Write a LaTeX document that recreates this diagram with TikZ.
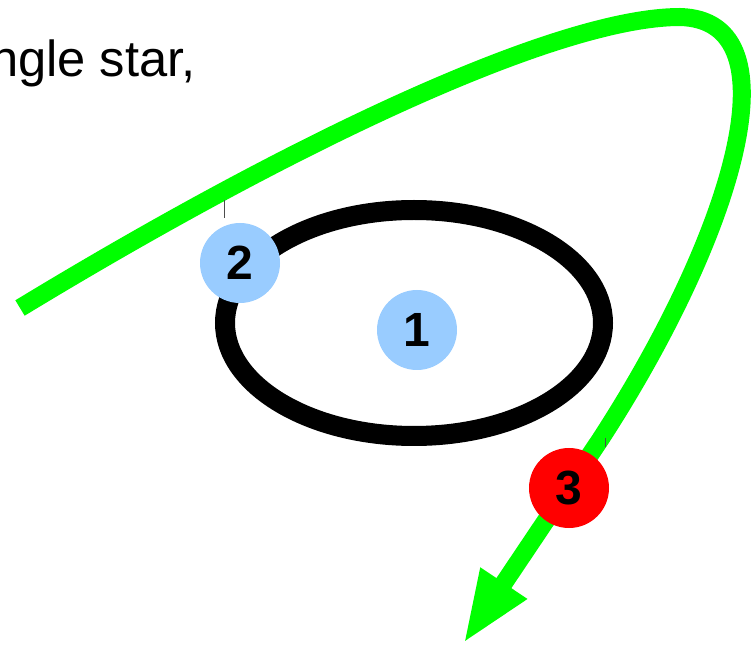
\documentclass[tikz,border=0pt]{standalone}
\usepackage{fontspec}
\setmainfont{Liberation Sans}
\usetikzlibrary{arrows.meta, positioning}

\begin{document}
\begin{tikzpicture}[
  x=0.75pt, y=-0.75pt,
  every node/.style={font=\fontsize{36}{42}\selectfont\bfseries},
  dot/.style={circle, minimum size=60pt, inner sep=0pt},
  bluedot/.style={dot, fill=lightblue},
  reddot/.style={dot, fill=red},
  ring/.style={line width=15pt, draw=black},
  route/.style={line width=13.5pt, draw=brightgreen, -{Triangle[length=55pt, width=38pt]}},
  tick/.style={line width=0.5pt, draw=black!70}
]
\definecolor{lightblue}{HTML}{99CCFF}
\definecolor{brightgreen}{HTML}{00FF00}
\useasboundingbox (0,0) rectangle (754,645);

% Caption
\node[font=\fontsize{38}{44}\selectfont, anchor=base east, inner sep=0pt] (caption) at (196,77) {ngle star,};

% Orbit
\draw[ring] (414,323) ellipse [x radius=189, y radius=113];

% Route
\coordinate (start) at (20,308);
\coordinate (top) at (680,17);
\coordinate (bend) at (600,440);
\coordinate (tip) at (463,644);
\draw[route] (start) .. controls (300,138) and (560,17) .. (top)
  .. controls (800,20) and (730,240) .. (bend) -- (tip);

% Nodes
\node[bluedot] (1) at (417,330) {1};
\node[bluedot] (2) at (240,263) {2};
\node[reddot]  (3) at (569,488) {3};

% Ticks
\coordinate (t2) at (224,200);
\coordinate (t3) at (605,438);
\draw[tick] (t2) -- ++(0,18);
\draw[tick] (t3) -- ++(0,9);

\end{tikzpicture}
\end{document}
